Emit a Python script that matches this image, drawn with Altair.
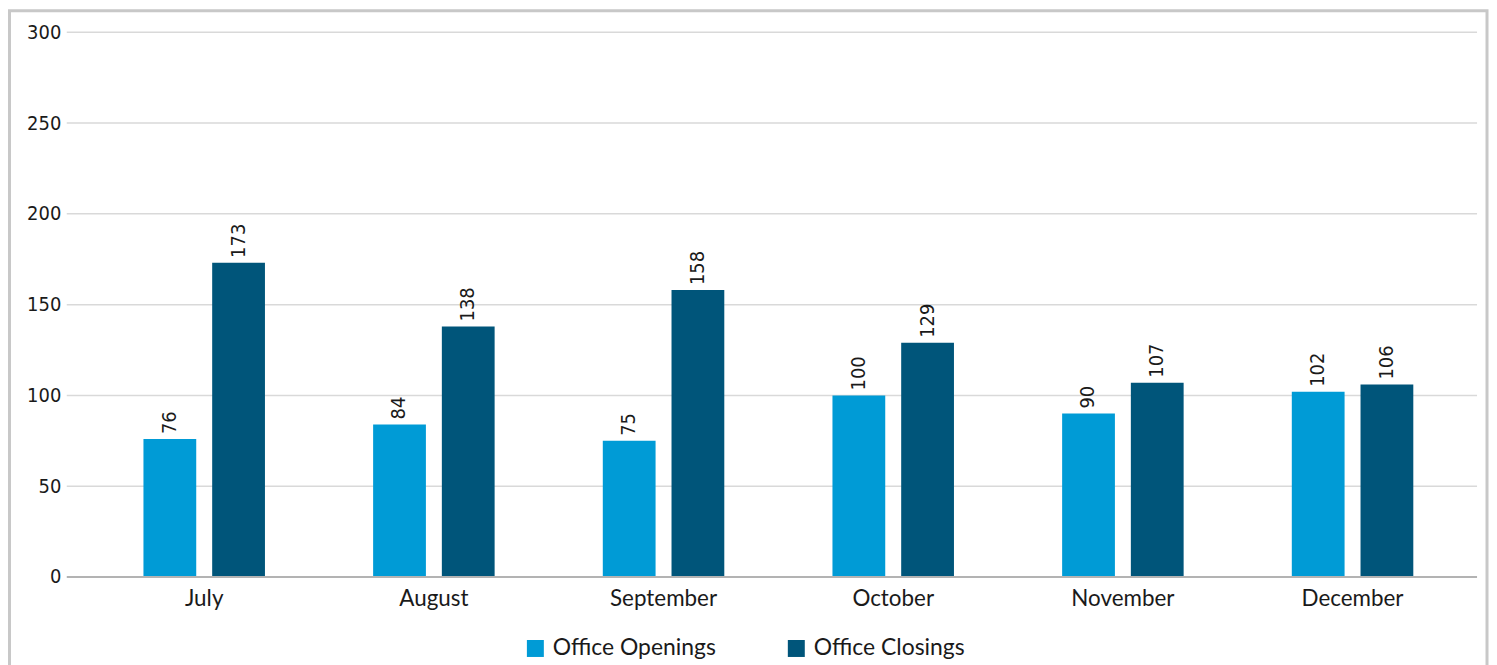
import altair as alt
import pandas as pd

months = ["July", "August", "September", "October", "November", "December"]
openings = [76, 84, 75, 100, 90, 102]
closings = [173, 138, 158, 129, 107, 106]
series = ["Office Openings", "Office Closings"]
colors = ["#009BD6", "#00557A"]
y_ticks = [0, 50, 100, 150, 200, 250, 300]

rows = []
for m, o, c in zip(months, openings, closings):
    rows.append({"month": m, "series": series[0], "value": o})
    rows.append({"month": m, "series": series[1], "value": c})
df = pd.DataFrame(rows)
grid_df = pd.DataFrame({"tick": y_ticks[1:]})

W, H = 1416, 547
NUM_FONT = "DejaVu Sans Condensed, DejaVu Sans"
yscale = alt.Scale(domain=[0, 300], nice=False)

x = alt.X("month:N", sort=months, title=None,
          scale=alt.Scale(range=[22.7, 1406.3], paddingInner=0, paddingOuter=0),
          axis=alt.Axis(labelAngle=0, labelFont="Lato", labelFontSize=22.5, labelColor="#1a1a1a",
                        ticks=False, domain=False, labelPadding=11))
xo = alt.XOffset("series:N", sort=series,
                 scale=alt.Scale(paddingInner=0.232, paddingOuter=0.787))
y = alt.Y("value:Q", title=None, scale=yscale,
          axis=alt.Axis(values=y_ticks, labelFont=NUM_FONT, labelFontSize=20,
                        labelColor="#1a1a1a", ticks=False, domain=False, labelPadding=6,
                        grid=False))
color = alt.Color("series:N", sort=series,
                  scale=alt.Scale(domain=series, range=colors),
                  legend=alt.Legend(title=None, orient="none", direction="horizontal",
                                    legendX=459, legendY=607, symbolType="square",
                                    symbolSize=290, symbolStrokeWidth=0, labelFont="Lato",
                                    labelFontSize=23, labelColor="#1a1a1a", labelOffset=6,
                                    labelLimit=0, columnPadding=69, symbolOpacity=1))

grid = alt.Chart(grid_df).mark_rule(color="#d9d9d9", strokeWidth=1.5).encode(
    y=alt.Y("tick:Q", scale=yscale), x=alt.value(0), x2=alt.value(W))

base = alt.Chart(df)
bars = base.mark_bar().encode(x=x, xOffset=xo, y=y, color=color)
labels = base.mark_text(angle=270, align="left", baseline="middle", dx=5,
                        font=NUM_FONT, fontSize=20, color="#1a1a1a").encode(
    x=x, xOffset=xo, y=y, text="value:Q")

baseline = alt.Chart(pd.DataFrame({"v": [0]})).mark_rule(color="#b3b3b3", strokeWidth=2).encode(
    y=alt.value(H), x=alt.value(0), x2=alt.value(W))

border = alt.Chart(pd.DataFrame({"v": [0]})).mark_rect(
    filled=False, stroke="#c8c8c8", strokeWidth=3).encode(
    x=alt.value(-57.5), x2=alt.value(1426), y=alt.value(-21.5), y2=alt.value(H + 200))

chart = alt.layer(grid, bars, labels, baseline, border).properties(
    width=W, height=H,
    background="white",
    autosize=alt.AutoSizeParams(type="none"),
    padding={"left": 59, "top": 23, "right": 12, "bottom": 87},
).configure_view(strokeWidth=0, stroke="transparent")

chart.save("out.html", embed_options={"renderer": "svg", "actions": False})
